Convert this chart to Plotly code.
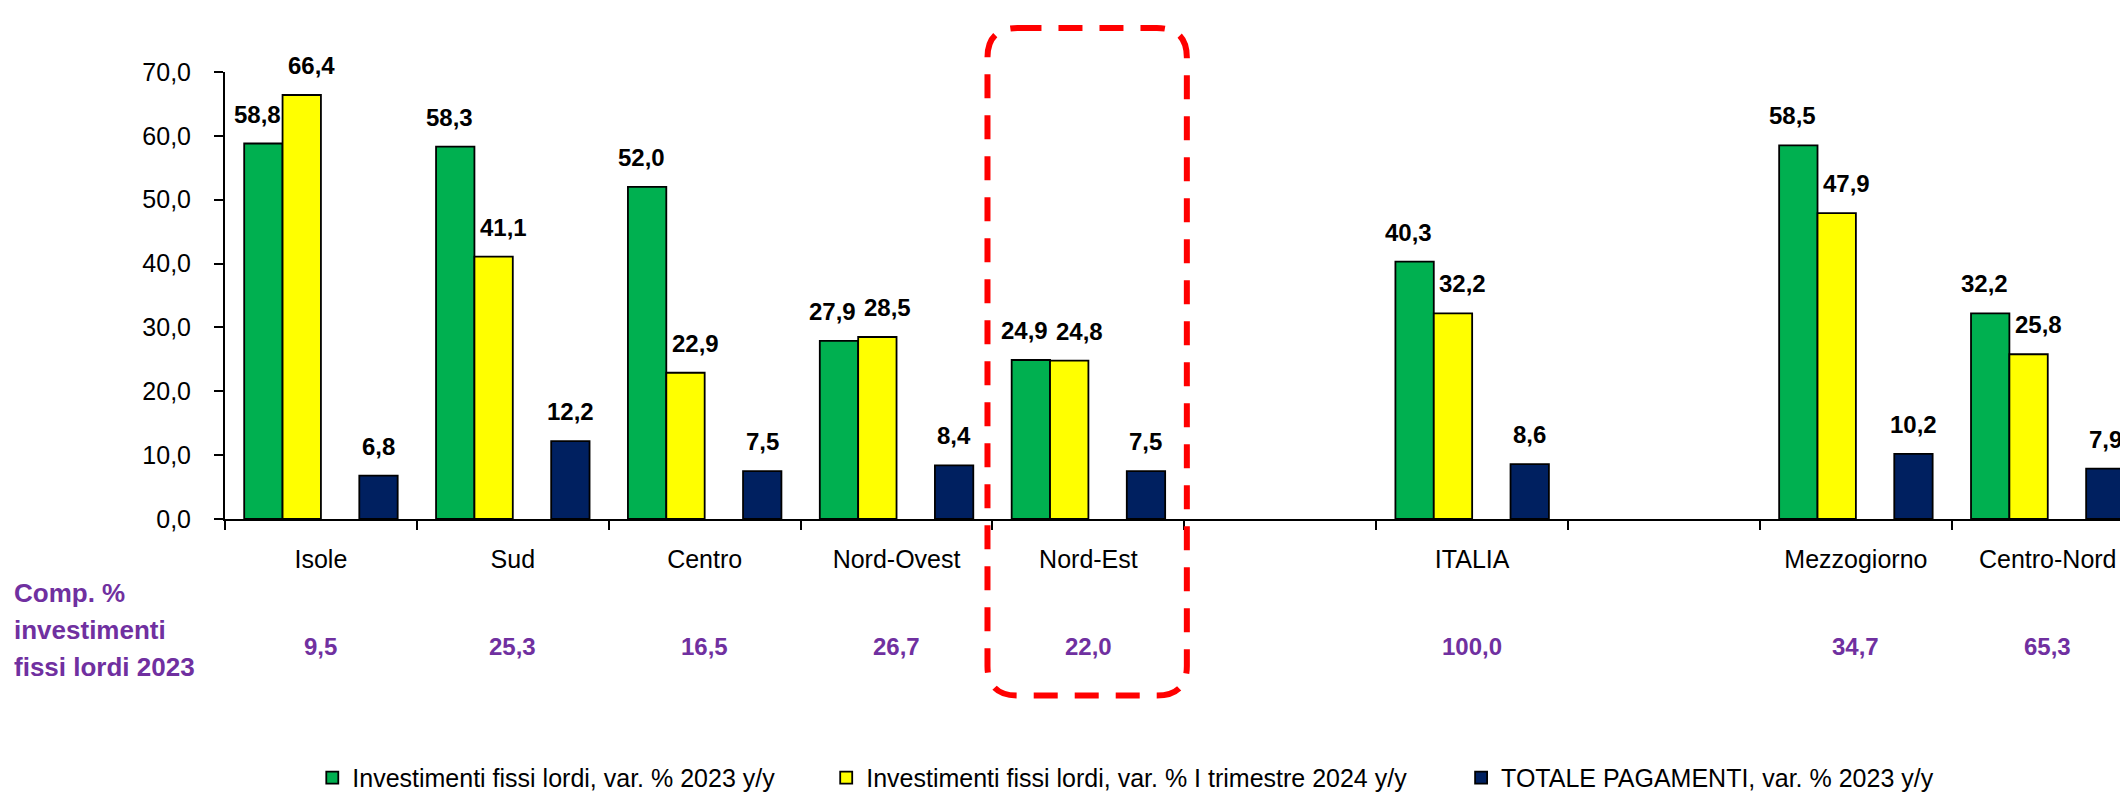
import plotly.graph_objects as go

# ---- data ----
categories = ["Isole", "Sud", "Centro", "Nord-Ovest", "Nord-Est", "", "ITALIA", "", "Mezzogiorno", "Centro-Nord"]
cat_pos = [0, 1, 2, 3, 4, 6, 8, 9]  # positions of non-empty groups (index 5 and 7 are spacers)
inv_2023 = [58.8, 58.3, 52.0, 27.9, 24.9, 40.3, 58.5, 32.2]
inv_q1_2024 = [66.4, 41.1, 22.9, 28.5, 24.8, 32.2, 47.9, 25.8]
pagamenti_2023 = [6.8, 12.2, 7.5, 8.4, 7.5, 8.6, 10.2, 7.9]
comp_2023 = [9.5, 25.3, 16.5, 26.7, 22.0, 100.0, 34.7, 65.3]

series_names = [
    "Investimenti fissi lordi, var. % 2023 y/y",
    "Investimenti fissi lordi, var. % I trimestre 2024 y/y",
    "TOTALE PAGAMENTI, var. % 2023 y/y",
]
y_ticks = [0, 10, 20, 30, 40, 50, 60, 70]

# ---- styling ----
W, H = 2128, 793
PL, PR = 216.7, 2128.0      # plot area left/right (px)
PT, PB = 64.0, 518.0        # plot area top/bottom (px)
FONT = "Liberation Sans, Arial, sans-serif"
GREEN, YELLOW, NAVY, PURPLE = "#00B050", "#FFFF00", "#002060", "#7030A0"
cat_w_px = 191.9
x_span = (PR - PL) / cat_w_px
x_range = [-0.5, -0.5 + x_span]


def px_to_paper_x(px):
    return (px - PL) / (PR - PL)


def px_to_paper_y(py):
    return (PB - py) / (PB - PT)


def fmt(v):
    return f"{v:.1f}".replace(".", ",")


fig = go.Figure()
colors = [GREEN, YELLOW, NAVY]
offsets = [-0.4, -0.2, 0.2]
label_shift = [-6, 10, 0]
data = [inv_2023, inv_q1_2024, pagamenti_2023]
legends = ["legend", "legend2", "legend3"]
for name, vals, col, off, lg, ls in zip(series_names, data, colors, offsets, legends, label_shift):
    fig.add_trace(go.Bar(
        x=cat_pos, y=vals, name=name, width=0.2, offset=off,
        marker=dict(color=col, line=dict(color="black", width=1.8)),
        legend=lg,
    ))
    for xi, v in zip(cat_pos, vals):
        fig.add_annotation(
            x=xi + off + 0.1, y=v, xref="x", yref="y",
            text=f"<b>{fmt(v)}</b>", showarrow=False,
            yanchor="bottom", yshift=14, xshift=ls,
            font=dict(family=FONT, size=24, color="black"),
        )

# composition row
for xi, v in zip(cat_pos, comp_2023):
    fig.add_annotation(
        x=xi, y=px_to_paper_y(648), xref="x", yref="paper",
        text=f"<b>{fmt(v)}</b>", showarrow=False, yanchor="middle",
        font=dict(family=FONT, size=24, color=PURPLE),
    )
for line, py in zip(["Comp. %", "investimenti", "fissi lordi 2023"], [593, 631, 668]):
    fig.add_annotation(
        x=px_to_paper_x(4), y=px_to_paper_y(py), xref="paper", yref="paper",
        text=f"<b>{line}</b>", showarrow=False, xanchor="left", yanchor="middle",
        font=dict(family=FONT, size=26, color=PURPLE),
    )

# dashed rounded box around Nord-Est
L, R, T, B, r = 979.3, 1178.7, 19.3, 697.3, 30
xl, xr = px_to_paper_x(L), px_to_paper_x(R)
yt, yb = px_to_paper_y(T), px_to_paper_y(B)
rx = r / (PR - PL)
ry = r / (PB - PT)
path = (
    f"M{xl+rx},{yt} L{xr-rx},{yt} Q{xr},{yt} {xr},{yt-ry} "
    f"L{xr},{yb+ry} Q{xr},{yb} {xr-rx},{yb} "
    f"L{xl+rx},{yb} Q{xl},{yb} {xl},{yb+ry} "
    f"L{xl},{yt-ry} Q{xl},{yt} {xl+rx},{yt} Z"
)
fig.add_shape(type="path", path=path, xref="paper", yref="paper",
              line=dict(color="#FF0000", width=6, dash="24px,17px"))

legend_common = dict(
    orientation="h", yanchor="middle", xanchor="left",
    font=dict(family=FONT, size=25, color="black"),
    bgcolor="rgba(0,0,0,0)", itemwidth=30,
)
leg_y = px_to_paper_y(781)
fig.update_layout(
    width=W, height=H,
    margin=dict(l=PL, r=W - PR, t=PT, b=H - PB, pad=0),
    paper_bgcolor="white", plot_bgcolor="white",
    separators=",.",
    barmode="overlay",
    showlegend=True,
    legend=dict(x=px_to_paper_x(304), y=leg_y, **legend_common),
    legend2=dict(x=px_to_paper_x(818), y=leg_y, **legend_common),
    legend3=dict(x=px_to_paper_x(1453), y=leg_y, **legend_common),
    xaxis=dict(
        range=x_range, tickmode="array",
        tickvals=list(range(len(categories))), ticktext=categories,
        ticks="", showgrid=False, zeroline=False,
        showline=True, linecolor="black", linewidth=2,
        tickfont=dict(family=FONT, size=25, color="black"),
        ticklabelstandoff=17,
        minor=dict(tickmode="array", tickvals=[i - 0.5 for i in range(len(categories) + 1)],
                   ticks="outside", ticklen=9, tickwidth=2, tickcolor="black", showgrid=False),
    ),
    yaxis=dict(
        range=[0, 70], tickmode="array", tickvals=y_ticks, tickformat=".1f",
        ticks="outside", ticklen=9, tickwidth=2, tickcolor="black",
        showgrid=False, zeroline=False,
        showline=True, linecolor="black", linewidth=2,
        tickfont=dict(family=FONT, size=25, color="black"),
        ticklabelstandoff=18,
    ),
)

fig.write_html("out.html")
